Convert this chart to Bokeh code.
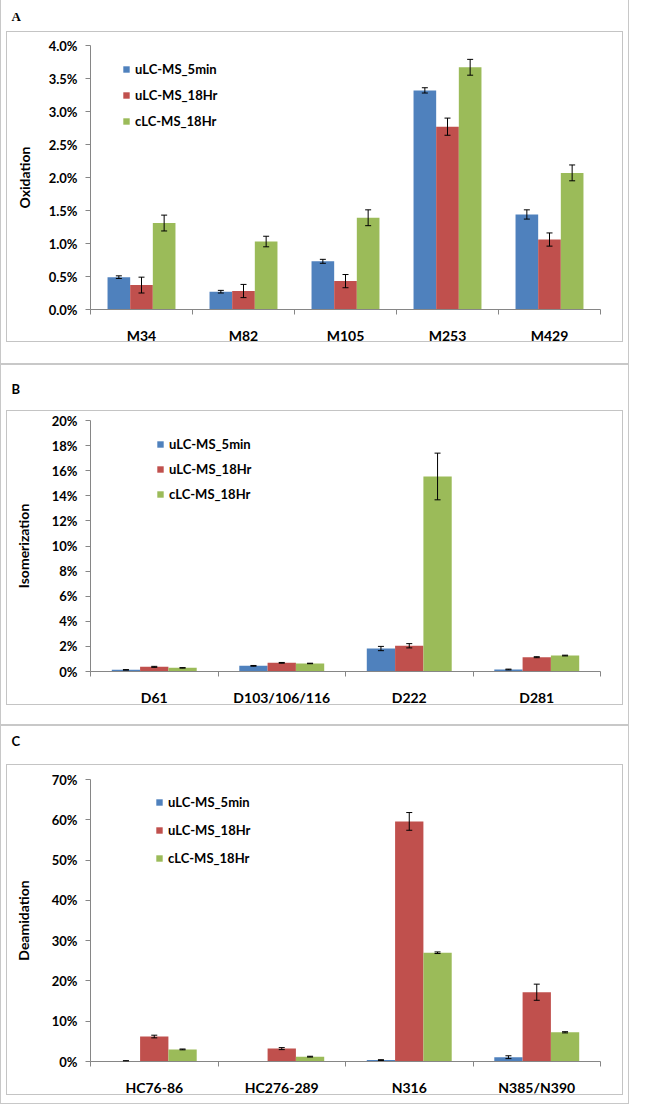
from bokeh.plotting import figure
from bokeh.models import (Range1d, FixedTicker, ColumnDataSource, Whisker, TeeHead, Legend,
                          LegendItem, Title, PrintfTickFormatter, InlineStyleSheet)
from bokeh.layouts import column
from bokeh.embed import file_html
from bokeh.resources import INLINE

series = ["uLC-MS_5min", "uLC-MS_18Hr", "cLC-MS_18Hr"]
colors = ["#4F81BD", "#C0504D", "#9BBB59"]

# Panel A - Oxidation (%)
ox_sites = ["M34", "M82", "M105", "M253", "M429"]
ox_5min = [0.49, 0.27, 0.73, 3.32, 1.44]
ox_5min_err = [0.02, 0.02, 0.03, 0.04, 0.07]
ox_18hr = [0.37, 0.28, 0.43, 2.77, 1.06]
ox_18hr_err = [0.12, 0.10, 0.10, 0.13, 0.10]
ox_c18 = [1.31, 1.03, 1.39, 3.67, 2.07]
ox_c18_err = [0.12, 0.08, 0.12, 0.12, 0.12]

# Panel B - Isomerization (%)
iso_sites = ["D61", "D103/106/116", "D222", "D281"]
iso_5min = [0.13, 0.45, 1.83, 0.16]
iso_5min_err = [0.02, 0.03, 0.17, 0.03]
iso_18hr = [0.37, 0.69, 2.05, 1.14]
iso_18hr_err = [0.04, 0.03, 0.17, 0.04]
iso_c18 = [0.29, 0.64, 15.54, 1.27]
iso_c18_err = [0.02, 0.02, 1.86, 0.03]

# Panel C - Deamidation (%)
deam_sites = ["HC76-86", "HC276-289", "N316", "N385/N390"]
deam_5min = [0.15, 0.0, 0.35, 1.07]
deam_5min_err = [0.05, 0.0, 0.10, 0.35]
deam_18hr = [6.2, 3.2, 59.6, 17.2]
deam_18hr_err = [0.33, 0.25, 2.2, 2.0]
deam_c18 = [3.0, 1.2, 27.0, 7.25]
deam_c18_err = [0.10, 0.10, 0.20, 0.15]

W = 629
FL, FR = 90, 29
FONT = "Lato"
AX = "#868686"


def make_panel(letter, letter_font, letter_style, sites, vals, errs, ymax, ystep, fmt, ylabel,
               H, top, bottom, inner_top, inner_bottom, spacer, leg_x, leg_top, leg_gap,
               ylabel_standoff, first, last):
    n = len(sites)
    fh = H - top - bottom
    css = f"""
:host::before {{ content: ""; position: absolute; left: 0px; top: 0px; width: {W}px;
  height: {H if last else H + 2}px; box-sizing: border-box; border: 1px solid #c8c8c8;
  {'border-top: none;' if first else ''}
  pointer-events: none; z-index: 100; }}
:host::after {{ content: ""; position: absolute; left: 6px; top: {inner_top}px; width: 617px;
  height: {inner_bottom - inner_top + 1}px; box-sizing: border-box; border: 1px solid #c4c4c4;
  pointer-events: none; z-index: 100; }}
"""
    p = figure(width=W, height=H, x_range=Range1d(0, n), y_range=Range1d(0, ymax),
               output_backend="svg", toolbar_location=None,
               min_border_left=FL, min_border_right=FR, min_border_top=top,
               min_border_bottom=bottom, outline_line_color=None,
               background_fill_color="white", border_fill_color="white", border_fill_alpha=0,
               stylesheets=[InlineStyleSheet(css=css)])
    p.grid.visible = False

    xa = p.xaxis[0]
    xa.ticker = FixedTicker(ticks=[i + 0.5 for i in range(n)], minor_ticks=list(range(n + 1)))
    xa.major_label_overrides = {i + 0.5: s for i, s in enumerate(sites)}
    xa.major_tick_line_color = None
    xa.major_tick_out = 0
    xa.major_tick_in = 0
    xa.minor_tick_out = 5
    xa.minor_tick_in = 0
    xa.minor_tick_line_color = AX
    xa.axis_line_color = AX
    xa.major_label_standoff = 12
    xa.major_label_text_font = FONT
    xa.major_label_text_font_style = "bold"
    xa.major_label_text_font_size = "14px"
    xa.major_label_text_color = "black"

    ya = p.yaxis[0]
    nt = int(round(ymax / ystep))
    ya.ticker = FixedTicker(ticks=[k * ystep for k in range(nt + 1)], minor_ticks=[])
    ya.formatter = PrintfTickFormatter(format=fmt)
    ya.major_tick_out = 5
    ya.major_tick_in = 0
    ya.major_tick_line_color = AX
    ya.minor_tick_line_color = None
    ya.axis_line_color = AX
    ya.major_label_standoff = 8
    ya.major_label_text_font = FONT
    ya.major_label_text_font_style = "bold"
    ya.major_label_text_font_size = "13px"
    ya.major_label_text_color = "black"
    ya.axis_label = ylabel
    ya.axis_label_text_font = FONT
    ya.axis_label_text_font_style = "bold"
    ya.axis_label_text_font_size = "14px"
    ya.axis_label_text_color = "black"
    ya.axis_label_standoff = ylabel_standoff

    bw = 0.222
    items = []
    for j in range(3):
        xs = [i + 0.5 + (j - 1) * bw for i in range(n)]
        src = ColumnDataSource(dict(x=xs, top=vals[j]))
        r = p.vbar(x="x", top="top", width=bw, source=src, fill_color=colors[j], line_color=None)
        items.append(LegendItem(label=series[j], renderers=[r]))
        keep = [i for i in range(n) if vals[j][i] > 0]
        esrc = ColumnDataSource(dict(
            x=[xs[i] for i in keep],
            upper=[vals[j][i] + errs[j][i] for i in keep],
            lower=[vals[j][i] - errs[j][i] for i in keep]))
        wh = Whisker(base="x", upper="upper", lower="lower", source=esrc,
                     line_color="black", line_width=1, level="annotation",
                     upper_head=TeeHead(size=6, line_color="black", line_width=1),
                     lower_head=TeeHead(size=6, line_color="black", line_width=1))
        p.add_layout(wh)

    lab_h = 16
    spacing = leg_gap - lab_h
    leg_h = 3 * lab_h + 2 * spacing
    legend = Legend(items=items, location=(leg_x, fh - leg_top - leg_h),
                    glyph_width=8, glyph_height=8, label_height=lab_h, spacing=spacing,
                    padding=0, margin=0, border_line_color=None, background_fill_alpha=0,
                    label_text_font=FONT, label_text_font_style="bold",
                    label_text_font_size="13px", label_standoff=5, label_text_color="black")
    p.add_layout(legend)

    p.add_layout(Title(text=" ", text_font_size="13px", standoff=spacer), "above")
    p.add_layout(Title(text=letter, align="left", offset=11 - FL, standoff=0,
                       text_font=letter_font, text_font_style=letter_style,
                       text_font_size="13px", text_color="black"), "above")
    return p


pA = make_panel("A", "Liberation Serif", "bold", ox_sites,
                [ox_5min, ox_18hr, ox_c18], [ox_5min_err, ox_18hr_err, ox_c18_err],
                4.0, 0.5, "%.1f%%", "Oxidation",
                H=363, top=45, bottom=54, inner_top=31, inner_bottom=341, spacer=5,
                leg_x=32, leg_top=16, leg_gap=26, ylabel_standoff=13, first=True, last=False)
pB = make_panel("B", FONT, "bold", iso_sites,
                [iso_5min, iso_18hr, iso_c18], [iso_5min_err, iso_18hr_err, iso_c18_err],
                20, 2, "%d%%", "Isomerization",
                H=361, top=57, bottom=53, inner_top=47, inner_bottom=341, spacer=7,
                leg_x=66, leg_top=16, leg_gap=25, ylabel_standoff=17, first=False, last=False)
pC = make_panel("C", FONT, "bold", deam_sites,
                [deam_5min, deam_18hr, deam_c18], [deam_5min_err, deam_18hr_err, deam_c18_err],
                70, 10, "%d%%", "Deamidation",
                H=380, top=55, bottom=43, inner_top=40, inner_bottom=370, spacer=14,
                leg_x=65, leg_top=15, leg_gap=28, ylabel_standoff=17, first=False, last=True)

layout = column(pA, pB, pC, spacing=0)
open("out.html", "w").write(file_html(layout, INLINE))
